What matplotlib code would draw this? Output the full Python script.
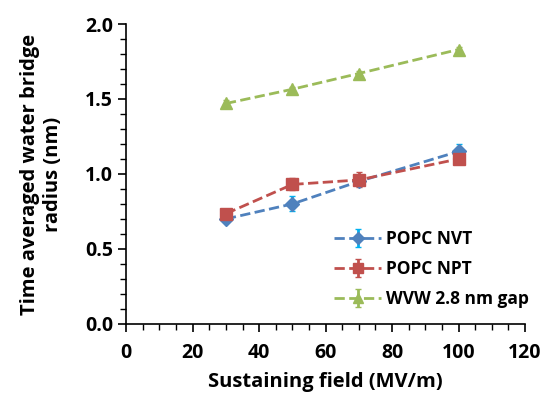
import matplotlib.pyplot as plt
from matplotlib.ticker import MultipleLocator

plt.rcParams['font.family'] = ['Open Sans', 'DejaVu Sans']
plt.rcParams['font.weight'] = 'bold'

field = [30, 50, 70, 100]
nvt = [0.70, 0.80, 0.95, 1.15]
nvt_err = [0.02, 0.05, 0.03, 0.05]
npt = [0.735, 0.93, 0.96, 1.10]
npt_err = [0.02, 0.04, 0.05, 0.03]
wvw = [1.47, 1.565, 1.67, 1.83]
wvw_err = [0.02, 0.015, 0.015, 0.02]

fig = plt.figure(figsize=(5.44, 3.94), dpi=100)
ax = fig.add_axes([0.232, 0.178, 0.733, 0.761])

ax.errorbar(field, nvt, yerr=nvt_err, color='#4F81BD', ecolor='#00B0F0', ls='--', lw=2,
            marker='D', ms=7, capsize=2, label='POPC NVT')
ax.errorbar(field, npt, yerr=npt_err, color='#C0504D', ecolor='#C0504D', ls='--', lw=2,
            marker='s', ms=8, capsize=2, label='POPC NPT')
ax.errorbar(field, wvw, yerr=wvw_err, color='#9BBB59', ecolor='#9BBB59', ls='--', lw=2,
            marker='^', ms=9, capsize=2, label='WVW 2.8 nm gap')

ax.set_xlim(0, 120)
ax.set_ylim(0, 2.0)
ax.xaxis.set_major_locator(MultipleLocator(20))
ax.xaxis.set_minor_locator(MultipleLocator(5))
ax.yaxis.set_major_locator(MultipleLocator(0.5))
ax.yaxis.set_minor_locator(MultipleLocator(0.1))
ax.yaxis.set_major_formatter(plt.FormatStrFormatter('%.1f'))
ax.spines['top'].set_visible(False)
ax.spines['right'].set_visible(False)
for s in ['left', 'bottom']:
    ax.spines[s].set_linewidth(1.2)
ax.tick_params(which='major', length=6, width=1.2, labelsize=14)
ax.tick_params(axis='x', which='major', pad=8)
ax.tick_params(which='minor', length=4, width=1)

ax.set_xlabel('Sustaining field (MV/m)', fontsize=14.5, fontweight='bold', labelpad=6)
ax.set_ylabel('Time averaged water bridge\nradius (nm)', fontsize=14.5, fontweight='bold',
              linespacing=1.15, labelpad=16)

ax.legend(loc='lower right', frameon=False, fontsize=12.5, labelspacing=0.7,
          handlelength=2.7, handletextpad=0.3, markerscale=0.85,
          bbox_to_anchor=(1.05, 0.0))

fig.savefig('out.png', dpi=100)
